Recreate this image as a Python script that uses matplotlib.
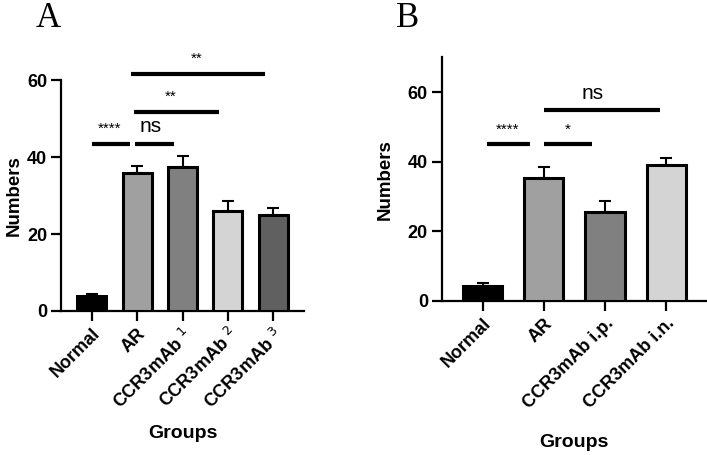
import numpy as np
import matplotlib
matplotlib.use('Agg')
import matplotlib.pyplot as plt

plt.rcParams['font.family'] = ['Liberation Sans', 'DejaVu Sans']

# Painel A
grupos_a = ['Normal', 'AR', 'CCR3mAb $^{1}$', 'CCR3mAb $^{2}$', 'CCR3mAb $^{3}$']
medias_a = [4.0, 35.9, 37.4, 26.0, 24.9]
erros_a = [0.4, 1.9, 3.0, 2.6, 1.9]
cores_a = ['#000000', '#a0a0a0', '#808080', '#d4d4d4', '#606060']
# comparacoes: (grupo inicial, grupo final, altura, texto)
sig_a = [(0, 1, 43.4, '****'), (1, 2, 43.4, 'ns'), (1, 3, 51.8, '**'), (1, 4, 61.6, '**')]

# Painel B
grupos_b = ['Normal', 'AR', 'CCR3mAb i.p.', 'CCR3mAb i.n.']
medias_b = [4.3, 35.4, 25.6, 39.1]
erros_b = [0.8, 3.1, 3.0, 1.9]
cores_b = ['#000000', '#a0a0a0', '#808080', '#d4d4d4']
sig_b = [(0, 1, 45.2, '****'), (1, 2, 45.2, '*'), (1, 3, 54.8, 'ns')]

# ajustes de layout das linhas de significancia: (recuo inicio, recuo fim, x do texto)
ajuste_a = [(0.0, 0.16, 0.40), (-0.04, 0.18, 1.30), (-0.07, 0.2, 1.74), (-0.14, 0.17, 2.32)]
ajuste_b = [(0.07, 0.23, 0.41), (0.0, 0.21, 1.39), (0.0, 0.1, 1.80)]

fig = plt.figure(figsize=(7.07, 4.55), dpi=100)
ax_a = fig.add_axes([0.0863, 0.3165, 0.3437, 0.5075])
ax_b = fig.add_axes([0.625, 0.3385, 0.375, 0.5355])


def desenha(ax, grupos, medias, erros, cores, sig, ajuste, ylim, xlim, pad_x, pad_y):
    x = np.arange(len(grupos))
    ax.bar(x, medias, width=0.64, color=cores, edgecolor='black', linewidth=2.2, zorder=3)
    ax.errorbar(x, medias, yerr=[np.zeros(len(erros)), erros], fmt='none',
                ecolor='black', elinewidth=1.5, capsize=4.5, capthick=1.5, zorder=2)
    ax.set_ylim(*ylim)
    ax.set_xlim(*xlim)
    ax.set_yticks([0, 20, 40, 60])
    ax.set_xticks(x)
    ax.set_xticklabels(grupos, rotation=45, ha='right', rotation_mode='anchor',
                       fontsize=13, fontweight='bold')
    for t in ax.get_yticklabels():
        t.set_fontsize(13)
        t.set_fontweight('bold')
    ax.tick_params(width=1.6, length=7, pad=3)
    for s in ['top', 'right']:
        ax.spines[s].set_visible(False)
    for s in ['left', 'bottom']:
        ax.spines[s].set_linewidth(1.6)
    ax.set_ylabel('Numbers', fontsize=13.5, fontweight='bold', labelpad=pad_y)
    ax.set_xlabel('Groups', fontsize=14, fontweight='bold', labelpad=pad_x)
    for (i, j, h, txt), (g0, g1, xt) in zip(sig, ajuste):
        ax.plot([i + g0, j - g1], [h, h], color='black', linewidth=3,
                solid_capstyle='butt', clip_on=False)
        if txt == 'ns':
            ax.text(xt, h + 2.0, txt, ha='center', va='bottom', fontsize=15)
        else:
            ax.text(xt, h + 2.0, txt, ha='center', va='bottom', fontsize=11)


desenha(ax_a, grupos_a, medias_a, erros_a, cores_a, sig_a, ajuste_a,
        (0, 60), (-0.68, 4.68), 9, 3)
desenha(ax_b, grupos_b, medias_b, erros_b, cores_b, sig_b, ajuste_b,
        (0, 70), (-0.67, 3.67), 16, 10)

fig.text(0.068, 0.995, 'A', fontsize=25, family='Liberation Serif', ha='center', va='top')
fig.text(0.576, 0.995, 'B', fontsize=25, family='Liberation Serif', ha='center', va='top')

fig.savefig('out.png', dpi=100)
